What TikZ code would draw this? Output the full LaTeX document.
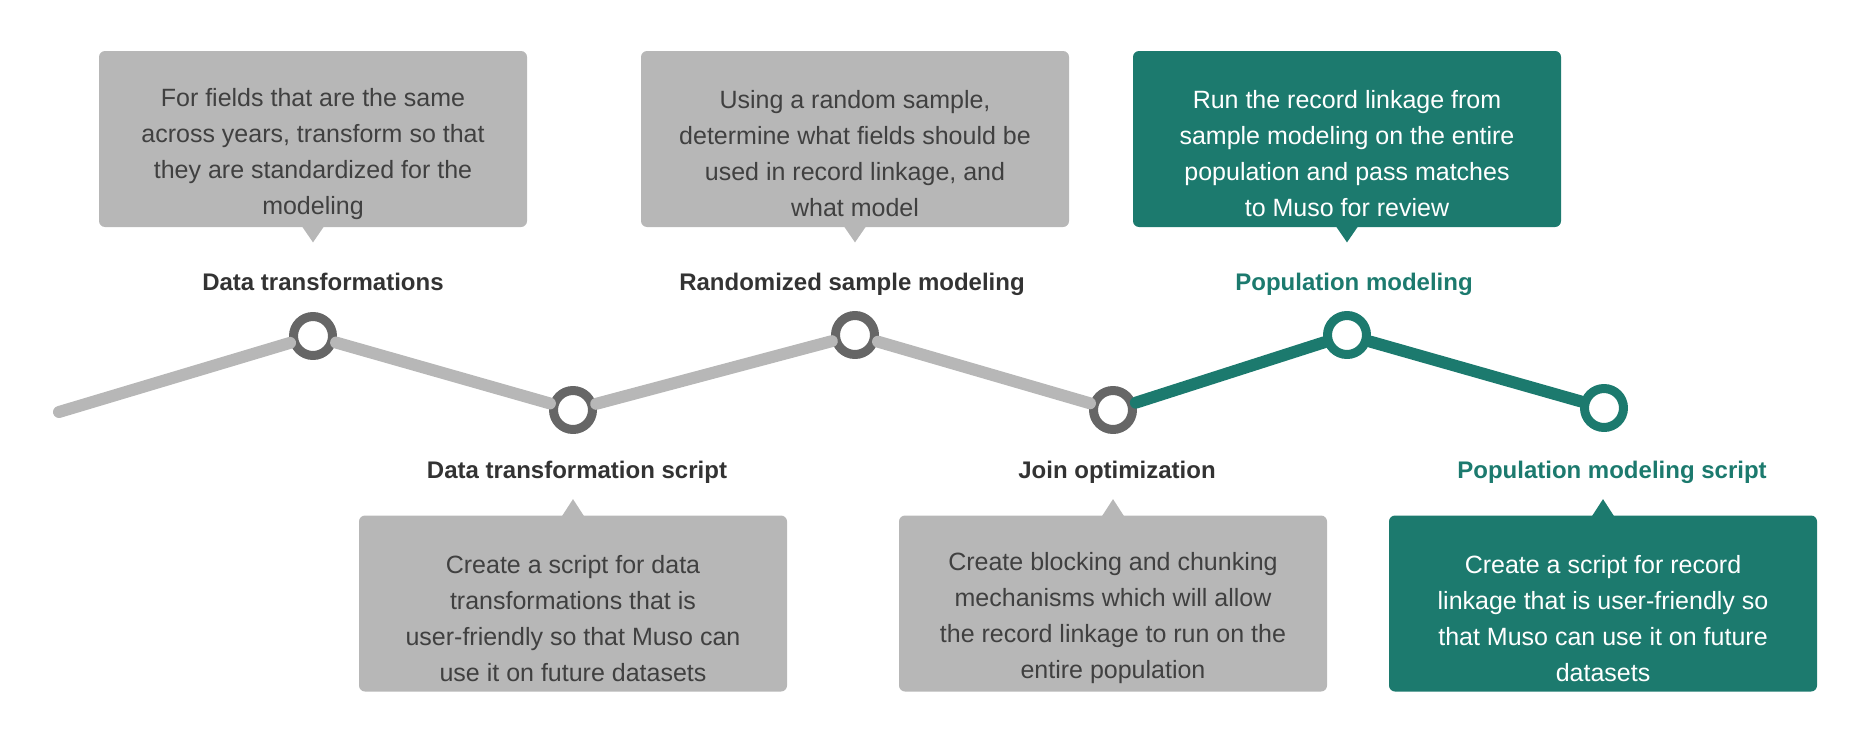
\documentclass[tikz,border=0pt]{standalone}
\usepackage{fontspec}
\setmainfont{Liberation Sans}
\definecolor{boxgray}{HTML}{B7B7B7}
\definecolor{ringgray}{HTML}{666666}
\definecolor{musoteal}{HTML}{1C7A6E}
\definecolor{textgray}{HTML}{404040}
\definecolor{labelgray}{HTML}{333333}
\begin{document}
\begin{tikzpicture}[x=0.5pt,y=-0.5pt,line join=round,
    ring node/.style={circle,draw=ringgray,fill=white,line width=4.5pt,inner sep=0pt,minimum size=19.5pt},
    teal ring/.style={ring node,draw=musoteal},
    gray box/.style={rectangle,rounded corners=3pt,fill=boxgray,minimum width=214pt,minimum height=88pt,inner sep=0pt},
    teal box/.style={gray box,fill=musoteal},
    box text/.style={align=center,text=textgray,font=\fontsize{12.5}{18}\selectfont,yshift=-7.5pt},
    white text/.style={box text,text=white},
    step label/.style={anchor=base,text=labelgray,font=\fontsize{12}{14}\selectfont\bfseries},
    teal label/.style={step label,text=musoteal},
    track/.style={line width=6pt,line cap=round,draw=boxgray},
    teal track/.style={track,draw=musoteal}]
  \useasboundingbox (0,0) rectangle (1870,755);
   % milestones
   \coordinate (s) at (59,412);
   \node[ring node] (c1) at (313,336) {};
   \node[ring node] (c2) at (573,410) {};
   \node[ring node] (c3) at (855,335) {};
   \node[ring node] (c4) at (1113,410) {};
   \node[teal ring] (c5) at (1347,335) {};
   \node[teal ring] (c6) at (1604,408) {};
   \path[track] (s) -- (c1) -- (c2) -- (c3) -- (c4);
   \path[teal track] (c4) -- (c5) -- (c6);
   % labels
   \node[step label] (l1) at (323,290) {Data transformations};
   \node[step label] (l2) at (577,478) {Data transformation script};
   \node[step label] (l3) at (852,290) {Randomized sample modeling};
   \node[step label] (l4) at (1117,478) {Join optimization};
   \node[teal label] (l5) at (1354,290) {Population modeling};
   \node[teal label] (l6) at (1612,478) {Population modeling script};
   % boxes above
   \node[gray box] (b1) at (313,139) {};
   \node[gray box] (b3) at (855,139) {};
   \node[teal box] (b5) at (1347,139) {};
   \fill[boxgray] ([xshift=-5.5pt,yshift=0.5pt]b1.south) -- ([yshift=-7.5pt]b1.south) -- ([xshift=5.5pt,yshift=0.5pt]b1.south) -- cycle;
   \fill[boxgray] ([xshift=-5.5pt,yshift=0.5pt]b3.south) -- ([yshift=-7.5pt]b3.south) -- ([xshift=5.5pt,yshift=0.5pt]b3.south) -- cycle;
   \fill[musoteal] ([xshift=-5.5pt,yshift=0.5pt]b5.south) -- ([yshift=-7.5pt]b5.south) -- ([xshift=5.5pt,yshift=0.5pt]b5.south) -- cycle;
   \node[box text] (t1) at (b1.center) {For fields that are the same\\across years, transform so that\\they are standardized for the\\modeling};
   \node[box text] (t3) at (b3.center) {Using a random sample,\\determine what fields should be\\used in record linkage, and\\what model};
   \node[white text] (t5) at (b5.center) {Run the record linkage from\\sample modeling on the entire\\population and pass matches\\to Muso for review};
   % boxes below
   \node[gray box] (b2) at (573,603.5) {};
   \node[gray box] (b4) at (1113,603.5) {};
   \node[teal box] (b6) at (1603,603.5) {};
   \fill[boxgray] ([xshift=-5.5pt,yshift=-0.5pt]b2.north) -- ([yshift=8pt]b2.north) -- ([xshift=5.5pt,yshift=-0.5pt]b2.north) -- cycle;
   \fill[boxgray] ([xshift=-5.5pt,yshift=-0.5pt]b4.north) -- ([yshift=8pt]b4.north) -- ([xshift=5.5pt,yshift=-0.5pt]b4.north) -- cycle;
   \fill[musoteal] ([xshift=-5.5pt,yshift=-0.5pt]b6.north) -- ([yshift=8pt]b6.north) -- ([xshift=5.5pt,yshift=-0.5pt]b6.north) -- cycle;
   \node[box text] (t2) at (b2.center) {Create a script for data\\transformations that is\\user-friendly so that Muso can\\use it on future datasets};
   \node[box text] (t4) at (b4.center) {Create blocking and chunking\\mechanisms which will allow\\the record linkage to run on the\\entire population};
   \node[white text] (t6) at (b6.center) {Create a script for record\\linkage that is user-friendly so\\that Muso can use it on future\\datasets};
\end{tikzpicture}
\end{document}
